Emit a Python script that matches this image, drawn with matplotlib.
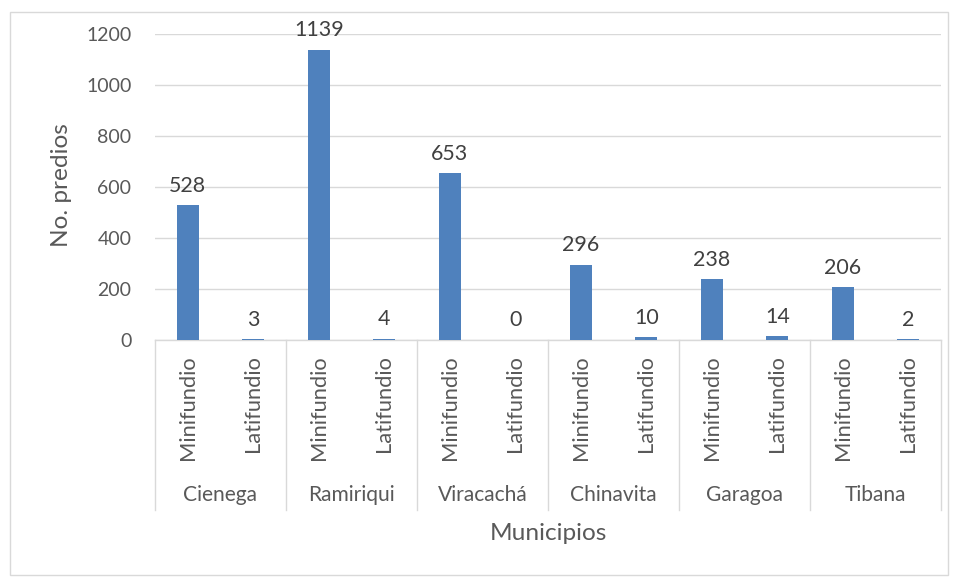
import matplotlib
matplotlib.use("Agg")
import matplotlib.pyplot as plt
import matplotlib.transforms as mtransforms
from matplotlib.patches import Rectangle

municipios = ["Cienega", "Ramiriqui", "Viracachá", "Chinavita", "Garagoa", "Tibana"]
tipos = ["Minifundio", "Latifundio"]
minifundio = [528, 1139, 653, 296, 238, 206]
latifundio = [3, 4, 0, 10, 14, 2]
yticks = [0, 200, 400, 600, 800, 1000, 1200]

plt.rcParams['font.family'] = ['Lato', 'DejaVu Sans']
TXT = '#595959'
BAR = '#4f81bd'
GRID = '#d9d9d9'

fig = plt.figure(figsize=(9.58, 5.77), dpi=100)
renderer = fig.canvas.get_renderer()


def fit_size(sample, target_px, base=12.0):
    t = fig.text(0, 0, sample, fontsize=base)
    w = t.get_window_extent(renderer=renderer).width
    t.remove()
    return base * target_px / w


FS_TICK = fit_size("1200", 45)
FS_DATA = fit_size("528", 37)
FS_SUB = fit_size("Minifundio", 105)
FS_GRP = fit_size("Cienega", 74)
FS_XL = fit_size("Municipios", 117)
FS_YL = fit_size("No. predios", 123)

fig.patches.append(Rectangle((10/958, 1-575/577), 1-20/958, (575-12)/577,
                             transform=fig.transFigure, fill=False,
                             edgecolor='#d9d9d9', linewidth=1.0))
ax = fig.add_axes([155/958, 1-340/577, 786/958, 306/577])

values = []
for m, l in zip(minifundio, latifundio):
    values += [m, l]
n = len(values)
xs = list(range(n))
ax.bar(xs, values, width=0.33, color=BAR, zorder=3)
ax.set_xlim(-0.5, n - 0.5)
ax.set_ylim(0, 1200)
ax.set_yticks(yticks)
ax.set_yticklabels([str(t) for t in yticks], fontsize=FS_TICK, color=TXT)
ax.tick_params(axis='y', length=0, pad=17)
ax.tick_params(axis='x', length=0, labelbottom=False)
ax.grid(axis='y', color=GRID, linewidth=1.0, zorder=0)
for s in ['top', 'right', 'left']:
    ax.spines[s].set_visible(False)
ax.spines['bottom'].set_color(GRID)
ax.spines['bottom'].set_linewidth(1.0)

for x, v in zip(xs, values):
    ax.annotate(str(v), (x, v), xytext=(0, 7), textcoords='offset points',
                ha='center', va='bottom', fontsize=FS_DATA, color='#404040')

trans = mtransforms.blended_transform_factory(ax.transData, ax.transAxes)
for i in range(len(municipios) + 1):
    xb = 2 * i - 0.5
    ax.plot([xb, xb], [0, -0.556], transform=trans, color=GRID,
            linewidth=1.0, clip_on=False)
for i, name in enumerate(municipios):
    for j, t in enumerate(tipos):
        ax.text(2 * i + j, -0.05, t, transform=trans, rotation=90,
                ha='center', va='top', fontsize=FS_SUB, color=TXT)
    ax.text(2 * i + 0.5, -0.506, name, transform=trans, ha='center',
            va='center', fontsize=FS_GRP, color=TXT)

ax.text(0.5, -0.631, "Municipios", transform=ax.transAxes, ha='center',
        va='center', fontsize=FS_XL, color=TXT)
ax.text(62/958, 1-185/577, "No. predios", transform=fig.transFigure,
        rotation=90, ha='center', va='center', fontsize=FS_YL, color=TXT)

fig.savefig("out.png", dpi=100)
